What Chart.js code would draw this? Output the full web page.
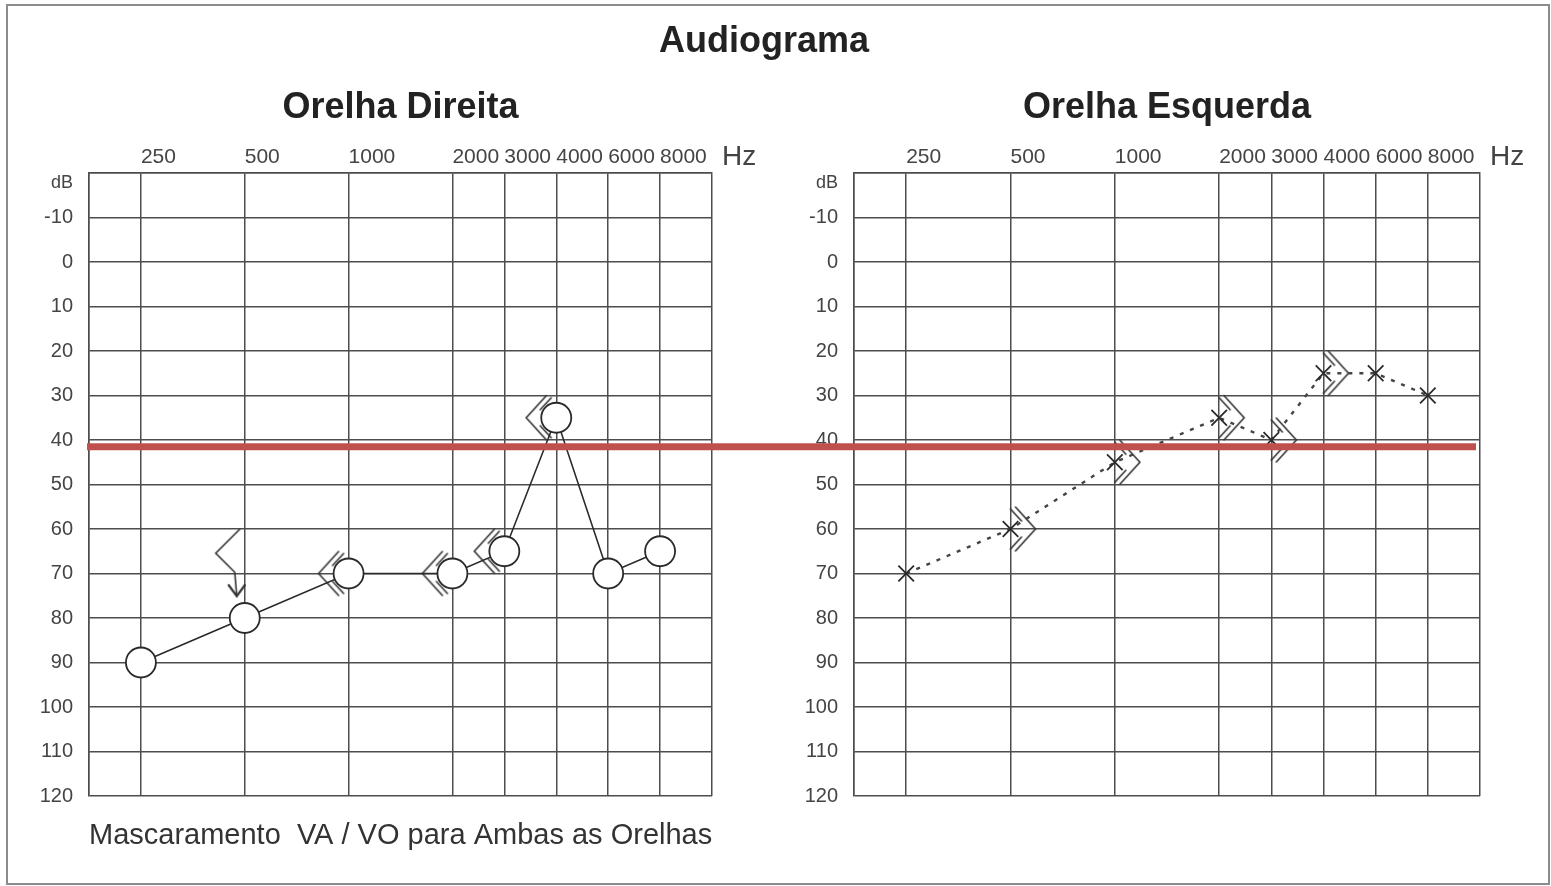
<!DOCTYPE html>
<html>
<head>
<meta charset="utf-8">
<script src="https://cdn.jsdelivr.net/npm/chart.js@4.4.1/dist/chart.umd.min.js"></script>
<style>
  html, body { margin: 0; padding: 0; background: #fff; width: 1551px; height: 886px; overflow: hidden; }
  #frame { position: absolute; left: 6px; top: 4px; width: 1544px; height: 881px; box-sizing: border-box; border: 2px solid #8c8c8c; }
  canvas { position: absolute; left: 0; top: 0; }
</style>
</head>
<body>
<div id="frame"></div>
<canvas id="chartRight" width="1551" height="886"></canvas>
<canvas id="chartLeft" width="1551" height="886"></canvas>
<script>
// ---------- DATA ----------
const frequencies = ['250', '500', '1000', '2000', '3000', '4000', '6000', '8000'];
// x-axis tick labels (half-octave slots, blanks are unlabeled slots)
const axisSlots = ['', '250', '', '500', '', '1000', '', '2000', '3000', '4000', '6000', '8000', ''];
const dbMin = -20;
const dbMax = 120;
const dbStep = 10;

// Orelha Direita (right ear) – air conduction (O)
const rightAir = [90, 80, 70, 70, 65, 35, 70, 65];
// Orelha Direita – bone conduction (<)
const rightBoneFreqs = ['500', '1000', '2000', '3000', '4000'];
const rightBone = [65, 70, 70, 65, 35];
const rightBoneNoResponse = [true, false, false, false, false];

// Orelha Esquerda (left ear) – air conduction (X)
const leftAir = [70, 60, 45, 35, 40, 25, 25, 30];
// Orelha Esquerda – bone conduction (>)
const leftBoneFreqs = ['500', '1000', '2000', '3000', '4000'];
const leftBone = [60, 45, 35, 40, 25];

// reference line (dB HL)
const referenceLineDb = [41.5];

// ---------- STYLE ----------
const FONT = '"Liberation Sans", Arial, Helvetica, sans-serif';
const GRID = '#4d4d4d';
const INK = '#2a2a2a';

// custom bone-conduction marker images
function boneMarker(dir, noResponse) {
  const W = 100, H = 120;
  const c = document.createElement('canvas');
  c.width = W; c.height = H;
  const g = c.getContext('2d');
  const cx = W / 2, cy = H / 2;
  g.strokeStyle = '#333';
  g.lineWidth = 1.6;
  g.lineJoin = 'miter';
  g.lineCap = 'round';
  if (noResponse) {
    g.beginPath();
    g.moveTo(cx - 5, cy - 22);
    g.lineTo(cx - 29, cy + 2);
    g.lineTo(cx - 10, cy + 21);
    g.lineTo(cx - 8, cy + 45);
    g.stroke();
    g.beginPath();
    g.moveTo(cx - 16, cy + 34);
    g.lineTo(cx - 8, cy + 45);
    g.lineTo(cx + 0, cy + 34);
    g.lineWidth = 2.2;
    g.stroke();
    return c;
  }
  const s = dir; // -1 => '<', +1 => '>'
  const vx = dir < 0 ? 30 : 25;
  const ex = dir < 0 ? 10 : 5;
  g.beginPath();
  g.moveTo(cx + s * ex, cy - 22);
  g.lineTo(cx + s * vx, cy);
  g.lineTo(cx + s * ex, cy + 22);
  g.stroke();
  // second (parallel) strokes
  g.beginPath();
  g.moveTo(cx + s * (ex - 5), cy - 20);
  g.lineTo(cx + s * (ex + 6), cy - 8);
  g.moveTo(cx + s * (ex - 5), cy + 20);
  g.lineTo(cx + s * (ex + 6), cy + 8);
  g.stroke();
  return c;
}
const imgLt = boneMarker(-1, false);
const imgLtNR = boneMarker(-1, true);
const imgGt = boneMarker(1, false);

// text plugin
const panelText = {
  id: 'panelText',
  afterDraw(chart, args, opts) {
    const { ctx, chartArea: a, scales } = chart;
    ctx.save();
    ctx.textBaseline = 'middle';
    // panel title
    ctx.fillStyle = '#222';
    ctx.font = 'bold 36px ' + FONT;
    ctx.textAlign = 'center';
    ctx.fillText(opts.title, (a.left + a.right) / 2, a.top - 65);
    // Hz
    ctx.fillStyle = '#444';
    ctx.font = '28px ' + FONT;
    ctx.textAlign = 'left';
    ctx.fillText('Hz', a.right + 10, a.top - 16);
    // dB
    ctx.font = '18px ' + FONT;
    ctx.textAlign = 'right';
    ctx.fillText('dB', a.left - 16, scales.y.getPixelForValue(dbMin) + 10);
    if (opts.heading) {
      ctx.fillStyle = '#222';
      ctx.font = 'bold 36px ' + FONT;
      ctx.textAlign = 'center';
      ctx.fillText(opts.heading, 764, 42);
    }
    if (opts.footer) {
      ctx.fillStyle = '#333';
      ctx.font = '29px ' + FONT;
      ctx.textAlign = 'left';
      ctx.fillText(opts.footer, a.left, a.bottom + 40);
    }
    ctx.restore();
  }
};

let rightChartRef = null;
const refLine = {
  id: 'refLine',
  afterDraw(chart) {
    if (!rightChartRef) return;
    const { ctx } = chart;
    const y = chart.scales.y.getPixelForValue(referenceLineDb[0]);
    ctx.save();
    ctx.strokeStyle = '#C0504D';
    ctx.lineWidth = 7;
    ctx.lineCap = 'butt';
    ctx.beginPath();
    ctx.moveTo(chart.chartArea.left - 2, y);
    ctx.lineTo(rightChartRef.chartArea.right - 4, y);
    ctx.stroke();
    ctx.restore();
  }
};

function scalesConfig(yWidth) {
  return {
    x: {
      type: 'category',
      position: 'top',
      offset: false,
      grid: {
        color: (c) => (axisSlots[c.index] === '' && c.index !== 0 && c.index !== axisSlots.length - 1) ? 'rgba(0,0,0,0)' : GRID,
        lineWidth: 1.5,
        drawTicks: false,
        offset: false
      },
      border: { display: true, color: GRID, width: 1.5 },
      ticks: {
        autoSkip: false,
        maxRotation: 0,
        align: 'start',
        padding: 3,
        color: '#444',
        font: { family: FONT, size: 21 }
      },
      afterFit: (s) => { s.height = 173; }
    },
    y: {
      type: 'linear',
      reverse: true,
      min: dbMin,
      max: dbMax,
      grid: { color: GRID, lineWidth: 1.5, drawTicks: false },
      border: { display: true, color: GRID, width: 1.5 },
      ticks: {
        stepSize: dbStep,
        padding: 16,
        color: '#444',
        font: { family: FONT, size: 20 },
        callback: (v) => (v === dbMin ? '' : String(v))
      },
      afterFit: (s) => { s.width = yWidth; }
    }
  };
}

const commonPlugins = {
  legend: { display: false },
  tooltip: { enabled: false }
};

// ---------- RIGHT PANEL: Orelha Esquerda ----------
rightChartRef = new Chart(document.getElementById('chartRight'), {
  type: 'line',
  data: {
    labels: axisSlots,
    datasets: [
      {
        label: 'VA Orelha Esquerda',
        data: frequencies.map((f, i) => ({ x: f, y: leftAir[i] })),
        borderColor: '#444',
        borderWidth: 2.4,
        borderDash: [4, 7],
        pointStyle: 'crossRot',
        pointRadius: 11,
        pointBorderWidth: 1.8,
        pointBorderColor: INK,
        pointBackgroundColor: 'rgba(0,0,0,0)',
        tension: 0,
        order: 0
      },
      {
        label: 'VO Orelha Esquerda',
        data: leftBoneFreqs.map((f, i) => ({ x: f, y: leftBone[i] })),
        showLine: false,
        pointStyle: leftBone.map(() => imgGt),
        pointRadius: 1,
        order: 1
      }
    ]
  },
  options: {
    responsive: false,
    animation: false,
    events: [],
    layout: { padding: { left: 780, right: 71, top: 0, bottom: 90 } },
    scales: scalesConfig(74),
    plugins: Object.assign({}, commonPlugins, {
      panelText: { title: 'Orelha Esquerda' }
    })
  },
  plugins: [panelText]
});

// ---------- LEFT PANEL: Orelha Direita ----------
new Chart(document.getElementById('chartLeft'), {
  type: 'line',
  data: {
    labels: axisSlots,
    datasets: [
      {
        label: 'VA Orelha Direita',
        data: frequencies.map((f, i) => ({ x: f, y: rightAir[i] })),
        borderColor: INK,
        borderWidth: 1.6,
        pointStyle: 'circle',
        pointRadius: 15,
        pointBorderWidth: 1.8,
        pointBorderColor: INK,
        pointBackgroundColor: '#ffffff',
        tension: 0,
        order: 0
      },
      {
        label: 'VO Orelha Direita',
        data: rightBoneFreqs.map((f, i) => ({ x: f, y: rightBone[i] })),
        showLine: false,
        pointStyle: rightBoneNoResponse.map((nr) => (nr ? imgLtNR : imgLt)),
        pointRadius: 1,
        order: 1
      }
    ]
  },
  options: {
    responsive: false,
    animation: false,
    events: [],
    layout: { padding: { left: 0, right: 839, top: 0, bottom: 90 } },
    scales: scalesConfig(89),
    plugins: Object.assign({}, commonPlugins, {
      panelText: {
        title: 'Orelha Direita',
        heading: 'Audiograma',
        footer: 'Mascaramento  VA / VO para Ambas as Orelhas'
      }
    })
  },
  plugins: [panelText, refLine]
});
</script>
</body>
</html>
